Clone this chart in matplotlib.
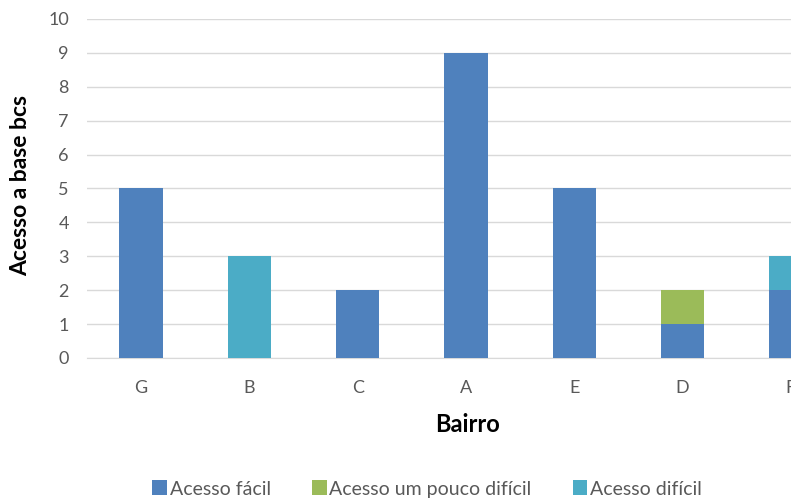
import matplotlib
matplotlib.use("Agg")
import matplotlib.pyplot as plt
import numpy as np

plt.rcParams['font.family'] = ['Lato', 'DejaVu Sans']

bairros = ["G", "B", "C", "A", "E", "D", "F"]
acesso_facil = [5, 0, 2, 9, 5, 1, 2]
acesso_pouco_dificil = [0, 0, 0, 0, 0, 1, 0]
acesso_dificil = [0, 3, 0, 0, 0, 0, 1]
series_labels = ["Acesso fácil", "Acesso um pouco difícil", "Acesso difícil"]
yticks = list(range(0, 11))

colors = ["#4F81BD", "#9BBB59", "#4BACC6"]

W, H = 791, 499
fig = plt.figure(figsize=(W / 100, H / 100), dpi=100)
ax = fig.add_axes([0.110, 0.2826, 0.958, 0.6794])

x = np.arange(len(bairros))
width = 0.4
bottom = np.zeros(len(bairros))
handles = []
for vals, lab, col in zip([acesso_facil, acesso_pouco_dificil, acesso_dificil], series_labels, colors):
    vals = np.array(vals, dtype=float)
    h = ax.bar(x, vals, width, bottom=bottom, color=col, label=lab, zorder=3)
    handles.append(h)
    bottom += vals

ax.set_xlim(-0.5, len(bairros) - 0.5)
ax.set_ylim(0, 10)
ax.set_yticks(yticks)
ax.set_xticks(x)
ax.set_xticklabels(bairros)
ax.grid(axis='y', color='#D9D9D9', linewidth=1, zorder=0)
for s in ["top", "right", "left"]:
    ax.spines[s].set_visible(False)
ax.spines["bottom"].set_color("#D9D9D9")
ax.tick_params(axis='both', length=0, labelsize=13, colors='#595959')
ax.tick_params(axis='x', pad=16)
ax.tick_params(axis='y', pad=13)

fig.text(21 / W, 1 - 185 / H, "Acesso a base bcs", fontsize=16.5, fontweight='bold',
         rotation=90, ha='center', va='center')
fig.text(467 / W, 1 - 424 / H, "Bairro", fontsize=17, fontweight='bold', ha='center', va='center')

fig.legend(handles=handles, labels=series_labels, loc='center', bbox_to_anchor=(427 / W, 1 - 489 / H),
           ncol=3, frameon=False, fontsize=14, handlelength=0.77, handleheight=0.77,
           handletextpad=0.15, columnspacing=2.1, labelcolor='#595959', borderpad=0)

fig.savefig("out.png", dpi=100)
